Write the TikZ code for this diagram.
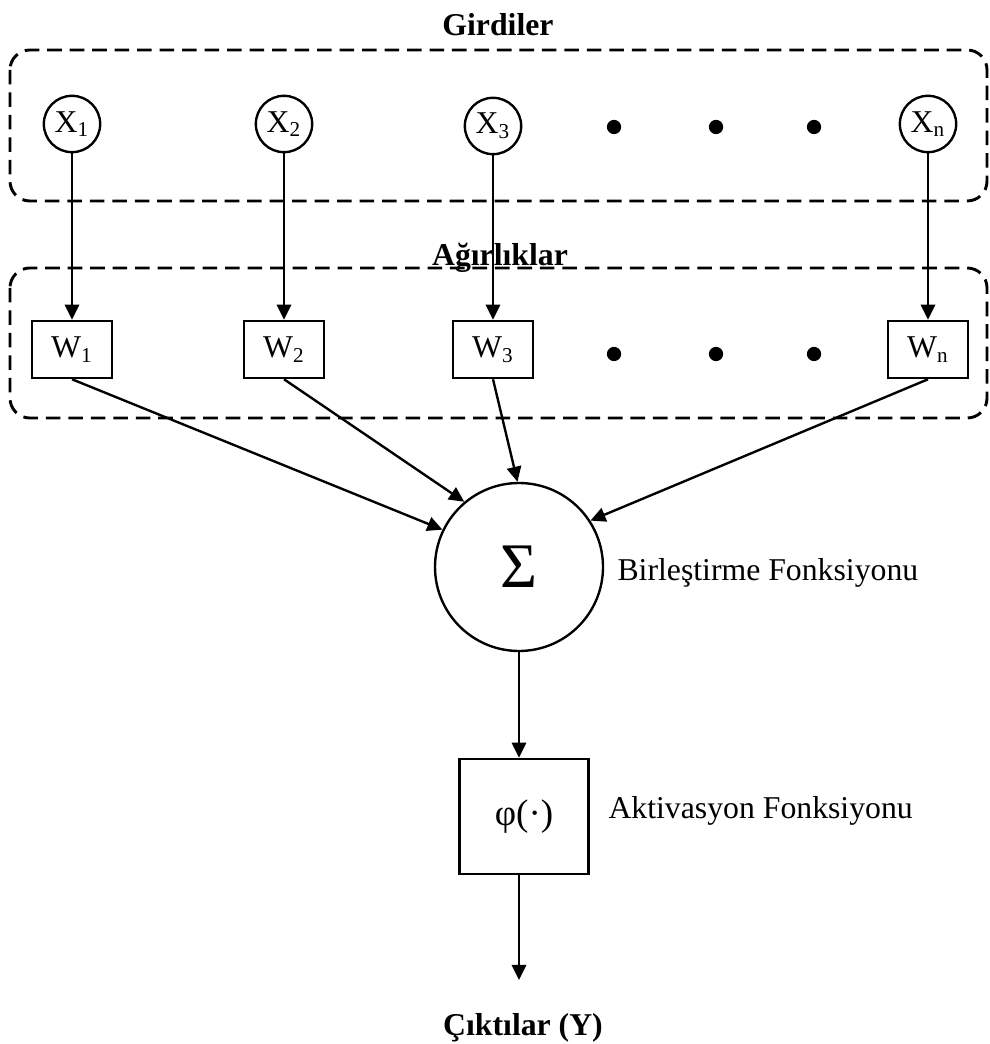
\documentclass[tikz,border=0pt]{standalone}
\usepackage{fontspec}
\setmainfont{Liberation Serif}
\usetikzlibrary{arrows.meta}

\begin{document}
\begin{tikzpicture}[x=0.378pt,y=-0.378pt,
		font=\fontsize{12}{14}\selectfont,
		inp/.style={draw,circle,line width=0.9pt,inner sep=0pt,minimum size=21.3pt},
		wgt/.style={draw,rectangle,line width=0.9pt,inner sep=0pt,minimum width=30.4pt,minimum height=21.6pt},
		dotn/.style={fill,circle,inner sep=0pt,minimum size=5.4pt},
		grp/.style={dash pattern=on 5.5pt off 3pt,line width=1.1pt,rounded corners=7.5pt},
		arr/.style={-{Triangle[length=5.7pt,width=5.4pt]},line width=0.9pt},
		ttl/.style={font=\fontsize{12}{14}\selectfont\bfseries,inner sep=0pt},
		lbl/.style={inner sep=0pt,anchor=base west}]
		\useasboundingbox (0,0) rectangle (989,1044);
		\draw[grp] (10,50) rectangle (987,201);
		\draw[grp] (10,268) rectangle (987,418);
		\node (girdi)   [ttl] at (498,25)  {Girdiler};
		\node (agirlik) [ttl] at (500,258) {Ağırlıklar};
		\node (x1) [inp] at (72,124)  {X\textsubscript{1}};
		\node (x2) [inp] at (284,124) {X\textsubscript{2}};
		\node (x3) [inp] at (493,126) {X\textsubscript{3}};
		\node (xn) [inp] at (928,124) {X\textsubscript{n}};
		\node (d1) [dotn] at (614,127) {};
		\node (d2) [dotn] at (716,127) {};
		\node (d3) [dotn] at (814,127) {};
		\node (w1) [wgt] at (72,349.5)  {W\textsubscript{1}};
		\node (w2) [wgt] at (284,349.5) {W\textsubscript{2}};
		\node (w3) [wgt] at (493,349.5) {W\textsubscript{3}};
		\node (wn) [wgt] at (928,349.5) {W\textsubscript{n}};
		\node (e1) [dotn] at (614,354) {};
		\node (e2) [dotn] at (716,354) {};
		\node (e3) [dotn] at (814,354) {};
		\node (sum) [draw,circle,line width=0.9pt,inner sep=0pt,minimum size=63.5pt,
			font=\fontsize{24}{28}\selectfont] at (519,567) {Σ};
		\node (birles) [lbl] at (617,580) {Birleştirme Fonksiyonu};
		\node (phi) [draw,line width=0.9pt,inner sep=0pt,minimum width=48.8pt,minimum height=43.5pt,
			font=\fontsize{14}{16}\selectfont] at (524,816.5) {φ(·)};
		\node (aktiv) [lbl] at (608,818) {Aktivasyon Fonksiyonu};
		\node (cikti) [ttl,anchor=base] at (523,1035) {Çıktılar (Y)};
		\coordinate (out) at (519,980);
		\draw[arr] (x1) -- (w1);
		\draw[arr] (x2) -- (w2);
		\draw[arr] (x3) -- (w3);
		\draw[arr] (xn) -- (wn);
		\draw[arr] (w1.south) -- (sum.154);
		\draw[arr] (w2.south) -- (sum.130);
		\draw[arr] (w3.south) -- (sum.91);
		\draw[arr] (wn.south) -- (sum.33);
		\draw[arr] (sum.south) -- (sum.south |- phi.north);
		\draw[arr] (phi.south -| out) -- (out);
\end{tikzpicture}
\end{document}
